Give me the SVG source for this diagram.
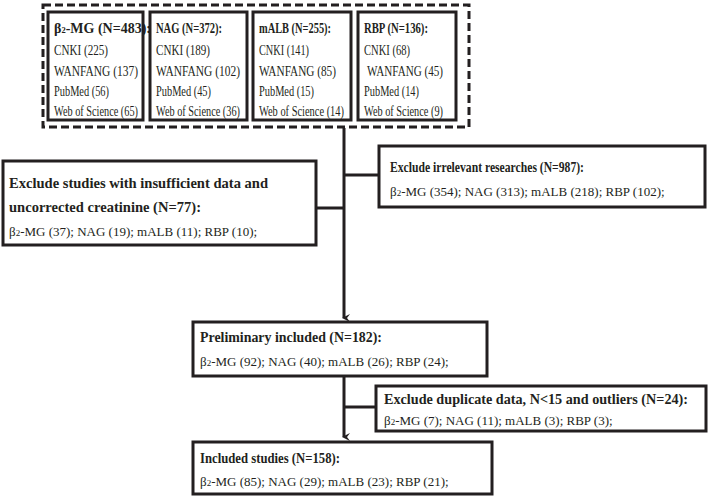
<svg xmlns="http://www.w3.org/2000/svg" width="712" height="498" viewBox="0 0 712 498">
<style>
.b{fill:#fff;stroke:#231f20;stroke-width:3}
text{font-family:"Liberation Serif",serif;font-size:14px;fill:#231f20}
.t{font-weight:bold;font-size:14px}
.l{font-size:13px}
.c{stroke:#231f20;stroke-width:3;fill:none}
</style>
<defs><marker id="a" markerWidth="8" markerHeight="8" refX="4" refY="6" orient="auto" markerUnits="userSpaceOnUse" viewBox="0 0 8 8"><path d="M0,0 L4,3 L8,0 L4,8Z" fill="#231f20"/></marker></defs>
<rect width="712" height="498" fill="#fff"/>
<g id="connectors">
<path class="c" d="M344,128 V318" marker-end="url(#a)"/>
<path class="c" d="M344,175 H379 M344,208 H316"/>
<path class="c" d="M344,375 V437" marker-end="url(#a)"/>
<path class="c" d="M344,407 H376"/>
</g>
<g id="sources">
<rect x="43" y="5" width="426" height="122" fill="none" stroke="#231f20" stroke-width="3" stroke-dasharray="8,4"/>
<g id="b2mg"><rect class="b" x="48" y="12" width="95" height="108"/>
<text x="54" y="33" class="t" font-size="12.5">β<tspan font-size="8.5">2</tspan>-MG (N=483):</text>
<text x="54" y="55" textLength="54" lengthAdjust="spacingAndGlyphs">CNKI (225)</text><text x="54" y="76" textLength="84" lengthAdjust="spacingAndGlyphs">WANFANG (137)</text><text x="54" y="96" textLength="55" lengthAdjust="spacingAndGlyphs">PubMed (56)</text><text x="54" y="116" textLength="84" lengthAdjust="spacingAndGlyphs">Web of Science (65)</text></g>
<g id="nag"><rect class="b" x="150" y="12" width="97" height="108"/>
<text x="156" y="33" class="t" textLength="66" lengthAdjust="spacingAndGlyphs">NAG (N=372):</text>
<text x="156" y="55" textLength="54" lengthAdjust="spacingAndGlyphs">CNKI (189)</text><text x="156" y="76" textLength="84" lengthAdjust="spacingAndGlyphs">WANFANG (102)</text><text x="156" y="96" textLength="55" lengthAdjust="spacingAndGlyphs">PubMed (45)</text><text x="156" y="116" textLength="84" lengthAdjust="spacingAndGlyphs">Web of Science (36)</text></g>
<g id="malb"><rect class="b" x="253" y="12" width="98" height="108"/>
<text x="259" y="33" class="t" textLength="72" lengthAdjust="spacingAndGlyphs">mALB (N=255):</text>
<text x="259" y="55" textLength="50" lengthAdjust="spacingAndGlyphs">CNKI (141)</text><text x="259" y="76" textLength="77" lengthAdjust="spacingAndGlyphs">WANFANG (85)</text><text x="259" y="96" textLength="55" lengthAdjust="spacingAndGlyphs">PubMed (15)</text><text x="259" y="116" textLength="85" lengthAdjust="spacingAndGlyphs">Web of Science (14)</text></g>
<g id="rbp"><rect class="b" x="358" y="12" width="98" height="108"/>
<text x="364" y="33" class="t" textLength="64" lengthAdjust="spacingAndGlyphs">RBP (N=136):</text>
<text x="364" y="55" textLength="46" lengthAdjust="spacingAndGlyphs">CNKI (68)</text><text x="367" y="76" textLength="76" lengthAdjust="spacingAndGlyphs">WANFANG (45)</text><text x="364" y="96" textLength="55" lengthAdjust="spacingAndGlyphs">PubMed (14)</text><text x="364" y="116" textLength="79" lengthAdjust="spacingAndGlyphs">Web of Science (9)</text></g>
</g>
<g id="excl1"><rect class="b" x="379" y="146" width="326" height="61"/>
<text x="390" y="172" class="t" textLength="194" lengthAdjust="spacingAndGlyphs">Exclude irrelevant researches (N=987):</text>
<text x="390" y="196" class="l">β<tspan font-size="9">2</tspan>-MG (354); NAG (313); mALB  (218); RBP (102);</text></g>
<g id="excl2"><rect class="b" x="3" y="161" width="313" height="84"/>
<text x="9" y="188" class="t" textLength="259" lengthAdjust="spacingAndGlyphs">Exclude studies with insufficient data and</text>
<text x="9" y="212" class="t" textLength="192" lengthAdjust="spacingAndGlyphs">uncorrected creatinine (N=77):</text>
<text x="9" y="236" class="l">β<tspan font-size="9">2</tspan>-MG (37); NAG (19); mALB  (11); RBP (10);</text></g>
<g id="prelim"><rect class="b" x="193" y="322" width="294" height="54"/>
<text x="200" y="342" class="t" textLength="182" lengthAdjust="spacingAndGlyphs">Preliminary included (N=182):</text>
<text x="200" y="366" class="l">β<tspan font-size="9">2</tspan>-MG (92); NAG (40); mALB  (26); RBP (24);</text></g>
<g id="excl3"><rect class="b" x="376" y="386" width="330" height="45"/>
<text x="384" y="404" class="t" textLength="304" lengthAdjust="spacingAndGlyphs">Exclude duplicate data, N&lt;15 and outliers (N=24):</text>
<text x="384" y="425" class="l">β<tspan font-size="9">2</tspan>-MG (7); NAG (11); mALB  (3); RBP (3);</text></g>
<g id="included"><rect class="b" x="193" y="442" width="299" height="52"/>
<text x="200" y="463" class="t" textLength="140" lengthAdjust="spacingAndGlyphs">Included studies (N=158):</text>
<text x="200" y="486" class="l">β<tspan font-size="9">2</tspan>-MG (85); NAG (29); mALB  (23); RBP (21);</text></g>
</svg>
